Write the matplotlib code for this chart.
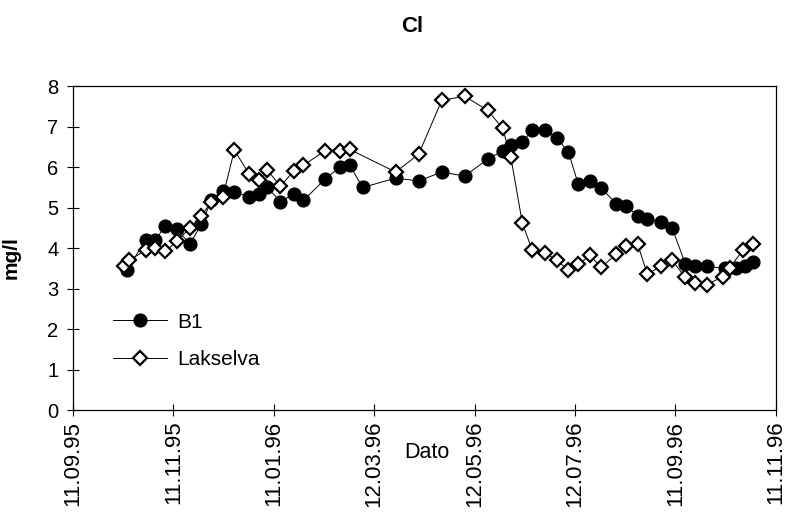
#!/usr/bin/env python3
"""Chloride concentration at B1 and Lakselva, Sept 1995 - Nov 1996."""
from datetime import datetime

import matplotlib

matplotlib.use("Agg")
import matplotlib.pyplot as plt

plt.rcParams["font.family"] = ["Liberation Sans", "DejaVu Sans"]

TITLE = "Cl"
Y_LABEL = "mg/l"
X_LABEL = "Dato"

B1_DATES = [
    "1995-10-14", "1995-10-25", "1995-10-31", "1995-11-06", "1995-11-13", "1995-11-21",
    "1995-11-28", "1995-12-04", "1995-12-11", "1995-12-18", "1995-12-27", "1996-01-02",
    "1996-01-07", "1996-01-15", "1996-01-23", "1996-01-29", "1996-02-11", "1996-02-20",
    "1996-02-26", "1996-03-05", "1996-03-25", "1996-04-08", "1996-04-22", "1996-05-06",
    "1996-05-20", "1996-05-29", "1996-06-03", "1996-06-10", "1996-06-16", "1996-06-24",
    "1996-07-01", "1996-07-08", "1996-07-14", "1996-07-21", "1996-07-28", "1996-08-06",
    "1996-08-12", "1996-08-19", "1996-08-25", "1996-09-02", "1996-09-09", "1996-09-17",
    "1996-09-23", "1996-09-30", "1996-10-11", "1996-10-18", "1996-10-23", "1996-10-28",
]
B1_VALUES = [
    3.47, 4.20, 4.20, 4.55, 4.47, 4.10, 4.60, 5.18, 5.40, 5.38, 5.27, 5.33,
    5.50, 5.15, 5.33, 5.18, 5.70, 6.00, 6.05, 5.50, 5.73, 5.66, 5.88, 5.78,
    6.20, 6.40, 6.54, 6.62, 6.91, 6.91, 6.72, 6.37, 5.58, 5.67, 5.48, 5.10,
    5.05, 4.80, 4.72, 4.65, 4.50, 3.62, 3.57, 3.55, 3.50, 3.52, 3.57, 3.65,
]

LAKSELVA_DATES = [
    "1995-10-12", "1995-10-15", "1995-10-25", "1995-10-31", "1995-11-06", "1995-11-13",
    "1995-11-21", "1995-11-28", "1995-12-04", "1995-12-11", "1995-12-18", "1995-12-27",
    "1996-01-02", "1996-01-07", "1996-01-15", "1996-01-23", "1996-01-29", "1996-02-11",
    "1996-02-20", "1996-02-26", "1996-03-25", "1996-04-08", "1996-04-22", "1996-05-06",
    "1996-05-20", "1996-05-29", "1996-06-03", "1996-06-10", "1996-06-16", "1996-06-24",
    "1996-07-01", "1996-07-08", "1996-07-14", "1996-07-21", "1996-07-28", "1996-08-06",
    "1996-08-12", "1996-08-19", "1996-08-25", "1996-09-02", "1996-09-09", "1996-09-17",
    "1996-09-23", "1996-09-30", "1996-10-10", "1996-10-14", "1996-10-22", "1996-10-28",
]
LAKSELVA_VALUES = [
    3.55, 3.70, 3.95, 4.00, 3.92, 4.17, 4.50, 4.80, 5.15, 5.27, 6.42, 5.83,
    5.68, 5.93, 5.53, 5.90, 6.05, 6.40, 6.40, 6.44, 5.88, 6.32, 7.65, 7.75,
    7.40, 6.96, 6.25, 4.62, 3.95, 3.88, 3.70, 3.46, 3.60, 3.82, 3.53, 3.85,
    4.05, 4.10, 3.36, 3.55, 3.70, 3.28, 3.15, 3.10, 3.30, 3.52, 3.95, 4.10,
]

TICK_DATES = [
    "1995-09-11", "1995-11-11", "1996-01-11", "1996-03-12",
    "1996-05-12", "1996-07-12", "1996-09-11", "1996-11-11",
]
Y_TICKS = [0, 1, 2, 3, 4, 5, 6, 7, 8]


def to_dates(values):
    return [datetime.strptime(v, "%Y-%m-%d") for v in values]


fig = plt.figure(figsize=(7.86, 5.16), dpi=100)
ax = fig.add_axes((0.093, 0.205, 0.894, 0.628))

ax.plot(to_dates(B1_DATES), B1_VALUES, color="black", linewidth=0.7,
        marker="o", markersize=9.2, markerfacecolor="black",
        markeredgecolor="black", label="B1", zorder=3)
ax.plot(to_dates(LAKSELVA_DATES), LAKSELVA_VALUES, color="black", linewidth=0.7,
        marker="D", markersize=7.5, markerfacecolor="white",
        markeredgecolor="black", markeredgewidth=1.6, label="Lakselva", zorder=4)

tick_dates = to_dates(TICK_DATES)
ax.set_xlim(tick_dates[0], tick_dates[-1])
ax.set_xticks(tick_dates)
ax.set_xticklabels([d.strftime("%d.%m.%y") for d in tick_dates],
                   rotation=90, fontsize=16)
ax.set_ylim(0, 8)
ax.set_yticks(Y_TICKS)
ax.tick_params(axis="y", labelsize=14.5, direction="inout", length=9, width=0.8, pad=6)
ax.tick_params(axis="x", direction="inout", length=9, width=0.8, pad=3)

for spine in ax.spines.values():
    spine.set_linewidth(0.9)
    spine.set_color("black")

ax.set_ylabel(Y_LABEL, fontsize=15, fontweight="bold", labelpad=12)
ax.yaxis.set_label_coords(-0.075, 0.47)
fig.text(0.543, 0.123, X_LABEL, fontsize=15.5, ha="center", va="center")
fig.text(0.525, 0.948, TITLE, fontsize=16, fontweight="bold", ha="center", va="center")

ax.legend(loc="lower left", bbox_to_anchor=(0.045, 0.1), frameon=False,
          fontsize=15, handlelength=2.6, handletextpad=0.5, labelspacing=0.9,
          borderaxespad=0)

fig.savefig("out.png", dpi=100)
